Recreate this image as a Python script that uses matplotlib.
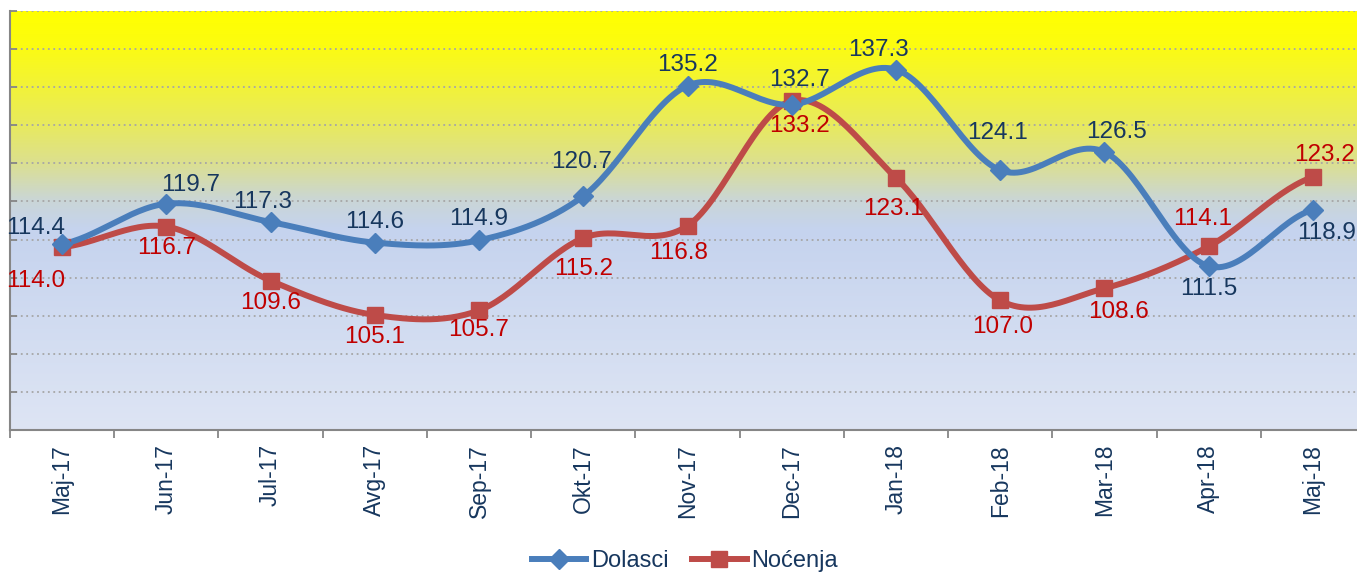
import numpy as np
import matplotlib.pyplot as plt
from matplotlib.colors import LinearSegmentedColormap
from matplotlib.lines import Line2D

plt.rcParams['font.family'] = ['Liberation Sans', 'DejaVu Sans']

# data
months = ['Maj-17', 'Jun-17', 'Jul-17', 'Avg-17', 'Sep-17', 'Okt-17', 'Nov-17',
          'Dec-17', 'Jan-18', 'Feb-18', 'Mar-18', 'Apr-18', 'Maj-18']
dolasci = [114.4, 119.7, 117.3, 114.6, 114.9, 120.7, 135.2, 132.7, 137.3, 124.1, 126.5, 111.5, 118.9]
nocenja = [114.0, 116.7, 109.6, 105.1, 105.7, 115.2, 116.8, 133.2, 123.1, 107.0, 108.6, 114.1, 123.2]

# label offsets in pixels (dx, dy)
off_dol = [(-26, 16), (24, 19), (-8, 20), (0, 21), (0, 21), (-2, 34), (0, 21),
           (8, 25), (-17, 20), (-3, 37), (12, 20), (0, -23), (14, -23)]
off_noc = [(-26, -34), (0, -21), (0, -22), (0, -22), (0, -20), (0, -31), (-9, -27),
           (8, -25), (-2, -31), (2, -27), (14, -24), (-6, 27), (12, 22)]

BLUE = '#4A7EBB'
RED = '#BE4B48'
NAVY = '#17375E'
DRED = '#C00000'


def smooth(y, n=30):
    # catmull-rom style smoothing like excel's smoothed lines
    y = np.asarray(y, float)
    xs, ys = [], []
    for i in range(len(y) - 1):
        p0 = y[i - 1] if i > 0 else y[i]
        p3 = y[i + 2] if i + 2 < len(y) else y[i + 1]
        m1 = (y[i + 1] - p0) / 2
        m2 = (p3 - y[i]) / 2
        t = np.linspace(0, 1, n, endpoint=False)
        h00 = 2 * t**3 - 3 * t**2 + 1
        h10 = t**3 - 2 * t**2 + t
        h01 = -2 * t**3 + 3 * t**2
        h11 = t**3 - t**2
        xs.extend(i + t)
        ys.extend(h00 * y[i] + h10 * m1 + h01 * y[i + 1] + h11 * m2)
    xs.append(len(y) - 1)
    ys.append(y[-1])
    return np.array(xs), np.array(ys)


W, H = 1357, 573
fig = plt.figure(figsize=(W / 100, H / 100), dpi=100)
ax = fig.add_axes([10 / W, 1 - 430 / H, 1355 / W, 419 / H])

ymin, ymax = 90, 145
ax.set_xlim(-0.5, 12.5)
ax.set_ylim(ymin, ymax)

# background gradient
cmap = LinearSegmentedColormap.from_list('bg', [
    (0.0, '#FFFF00'), (0.08, '#FCFC10'), (0.27, '#E8EA5E'), (0.36, '#DCE08E'),
    (0.45, '#CAD6D6'), (0.52, '#C5D3EE'), (1.0, '#DEE5F4')])
grad = np.linspace(0, 1, 256).reshape(-1, 1)
ax.imshow(grad, cmap=cmap, aspect='auto', extent=(-0.5, 12.5, ymin, ymax),
          origin='upper', zorder=0)

ax.set_yticks(np.arange(ymin, ymax + 1, 5))
ax.set_yticklabels([])
ax.grid(axis='y', color='#A6A6A6', linestyle=(0, (1, 2)), linewidth=1.3, zorder=1)
ax.tick_params(axis='y', direction='in', length=5, color='#868686', width=1.3)

x = np.arange(len(months))
ax.set_xticks(x)
ax.set_xticklabels(months, rotation=90, fontsize=16.5, color=NAVY)
ax.set_xticks(np.arange(-0.5, 12.6, 1), minor=True)
ax.tick_params(axis='x', which='major', length=0, pad=10)
ax.tick_params(axis='x', which='minor', length=6, color='#868686', width=1.3)

for s in ['top', 'right']:
    ax.spines[s].set_visible(False)
for s in ['left', 'bottom']:
    ax.spines[s].set_color('#868686')
    ax.spines[s].set_linewidth(1.5)

for vals, col, mk, ms, offs, tcol in [
        (nocenja, RED, 's', 11, off_noc, DRED),
        (dolasci, BLUE, 'D', 10, off_dol, NAVY)]:
    sx, sy = smooth(vals)
    ax.plot(sx, sy, color=col, lw=4.3, zorder=3, solid_capstyle='round')
    ax.plot(x, vals, linestyle='none', marker=mk, ms=ms, color=col, zorder=4)
    for xi, v, (dx, dy) in zip(x, vals, offs):
        ax.annotate(f'{v:.1f}', (xi, v), xytext=(dx, dy), textcoords='offset pixels',
                    ha='center', va='center', fontsize=17.5, color=tcol, zorder=5)

handles = [Line2D([], [], color=BLUE, lw=4.3, marker='D', ms=10),
           Line2D([], [], color=RED, lw=4.3, marker='s', ms=11)]
leg = fig.legend(handles, ['Dolasci', 'Noćenja'], loc='center', ncol=2,
                 bbox_to_anchor=(685 / W, 1 - 561 / H), frameon=False,
                 fontsize=17, handlelength=2.3, handletextpad=0.2, columnspacing=1.0)
for t in leg.get_texts():
    t.set_color(NAVY)

fig.savefig('out.png', dpi=100)
